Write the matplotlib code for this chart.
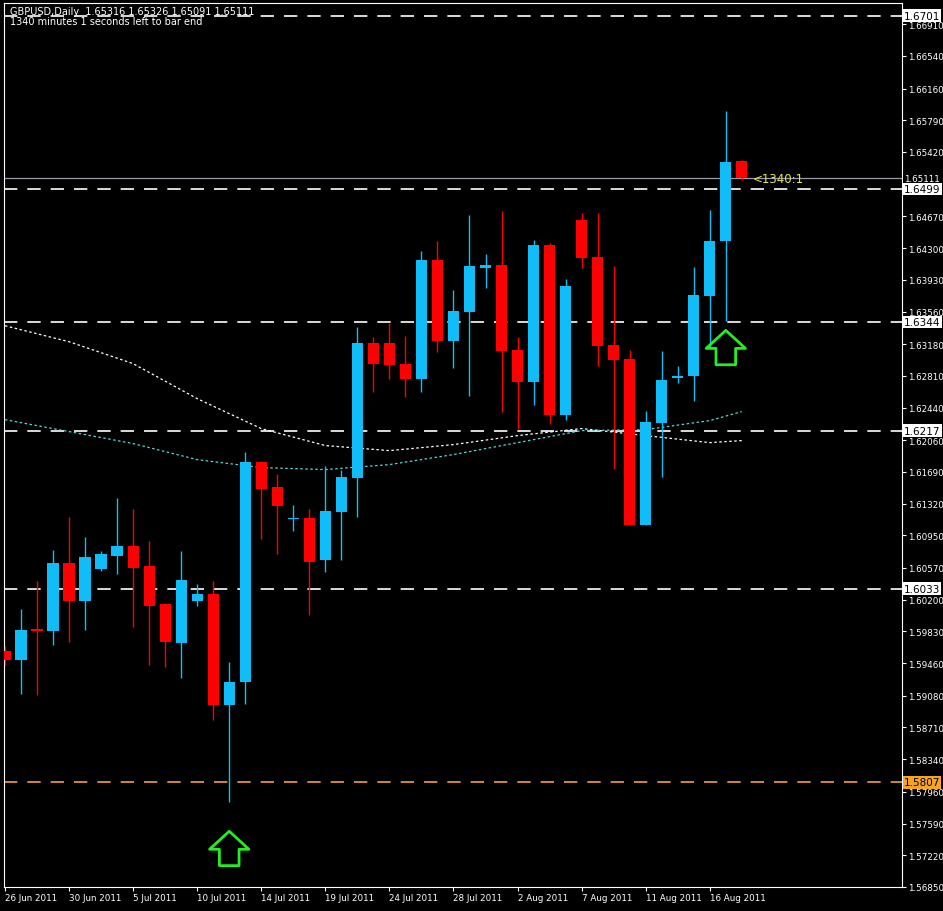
import numpy as np
import matplotlib
matplotlib.use("Agg")
import matplotlib.pyplot as plt
from matplotlib.path import Path

# daily GBPUSD bars, 26 Jun - 18 Aug 2011
opens = [1.59597, 1.59492, 1.59853, 1.59830, 1.60633, 1.60179, 1.60563, 1.60715, 1.60831, 1.60587,
         1.60144, 1.59690, 1.60179, 1.60272, 1.58967, 1.59235, 1.61810, 1.61519, 1.61146, 1.61158,
         1.60657, 1.61227, 1.61624, 1.63196, 1.63196, 1.62952, 1.62777, 1.64163, 1.63220, 1.63558,
         1.64070, 1.64105, 1.63115, 1.62742, 1.64338, 1.62358, 1.64629, 1.64198, 1.63173, 1.63010,
         1.61076, 1.62264, 1.62789, 1.62812, 1.63744, 1.64385, 1.65316]
highs = [1.59655, 1.60097, 1.60412, 1.60785, 1.61169, 1.60936, 1.60762, 1.61391, 1.61262, 1.60890,
         1.60167, 1.60762, 1.60377, 1.60412, 1.59468, 1.61927, 1.61822, 1.61670, 1.61309, 1.61262,
         1.61764, 1.61717, 1.63383, 1.63266, 1.63429, 1.63278, 1.64268, 1.64385, 1.63814, 1.64688,
         1.64233, 1.64734, 1.63266, 1.64396, 1.64361, 1.63942, 1.64711, 1.64711, 1.64094, 1.63115,
         1.62404, 1.63103, 1.62929, 1.64082, 1.64746, 1.65899, 1.65326]
lows = [1.59433, 1.59096, 1.59084, 1.59666, 1.59701, 1.59841, 1.60529, 1.60505, 1.59876, 1.59433,
        1.59410, 1.59282, 1.60132, 1.58793, 1.57837, 1.58979, 1.60913, 1.60727, 1.60995, 1.60016,
        1.60517, 1.60657, 1.61169, 1.62626, 1.62777, 1.62567, 1.62626, 1.63092, 1.62905, 1.62579,
        1.63837, 1.62393, 1.62195, 1.62474, 1.62253, 1.62299, 1.64070, 1.62929, 1.61729, 1.61076,
        1.61076, 1.61635, 1.62730, 1.62521, 1.63150, 1.63453, 1.65091]
closes = [1.59492, 1.59841, 1.59830, 1.60633, 1.60179, 1.60703, 1.60727, 1.60831, 1.60575, 1.60132,
          1.59701, 1.60424, 1.60272, 1.58967, 1.59235, 1.61810, 1.61495, 1.61297, 1.61158, 1.60645,
          1.61239, 1.61635, 1.63196, 1.62952, 1.62940, 1.62777, 1.64163, 1.63220, 1.63569, 1.64094,
          1.64105, 1.63103, 1.62742, 1.64338, 1.62358, 1.63861, 1.64187, 1.63161, 1.62998, 1.61076,
          1.62276, 1.62765, 1.62812, 1.63756, 1.64385, 1.65305, 1.65111]

# moving averages sampled every 4 bars
ma_bars = [0, 4, 8, 12, 16, 20, 24, 28, 32, 36, 40, 44, 46]
ma_white = [1.63394, 1.63208, 1.62952, 1.62544, 1.62195, 1.61997, 1.61938, 1.62008, 1.62113,
            1.62195, 1.62113, 1.62031, 1.62055]
ma_cyan = [1.62299, 1.62160, 1.62020, 1.61833, 1.61740, 1.61717, 1.61775, 1.61892, 1.62031,
           1.62171, 1.62183, 1.62288, 1.62393]

level_lines = [1.6701, 1.6499, 1.6344, 1.6217, 1.6033]
orange_level = 1.5807
bid = 1.65111

arrow_bars = [14, 45]
arrow_prices = [1.5729, 1.6313]

date_labels = ["26 Jun 2011", "30 Jun 2011", "5 Jul 2011", "10 Jul 2011", "14 Jul 2011",
               "19 Jul 2011", "24 Jul 2011", "28 Jul 2011", "2 Aug 2011", "7 Aug 2011",
               "11 Aug 2011", "16 Aug 2011"]
price_ticks = [1.66910, 1.66540, 1.66160, 1.65790, 1.65420, 1.64670, 1.64300, 1.63930, 1.63560,
               1.63180, 1.62810, 1.62440, 1.62060, 1.61690, 1.61320, 1.60950, 1.60570, 1.60200,
               1.59830, 1.59460, 1.59080, 1.58710, 1.58340, 1.57960, 1.57590, 1.57220, 1.56850]

BLUE = "#10bdf6"
RED = "#ff0000"

fig = plt.figure(figsize=(9.43, 9.12), dpi=100, facecolor="black")
ax = fig.add_axes([4 / 943, 24 / 912, 898 / 943, 884 / 912], facecolor="black")

x = np.arange(len(opens))
o = np.array(opens); c = np.array(closes)
up = c >= o
cols = np.where(up, BLUE, RED)
ax.vlines(x, lows, highs, colors=cols, linewidth=1, zorder=3)
bottoms = np.minimum(o, c)
heights = np.maximum(np.abs(c - o), 0.00002)
ax.bar(x, heights, bottom=bottoms, width=0.7, color=cols, linewidth=0, zorder=4)

ax.plot(ma_bars, ma_white, color="white", linestyle=(0, (2, 2)), linewidth=0.9, zorder=2)
ax.plot(ma_bars, ma_cyan, color="#5fd3d3", linestyle=(0, (2, 2)), linewidth=0.9, zorder=2)

for lv in level_lines:
    ax.axhline(lv, color="white", linestyle=(0, (8, 6)), linewidth=1.2, zorder=1)
    ax.text(1.002, lv, f"{lv:.4f}", transform=ax.get_yaxis_transform(), va="center", ha="left",
            fontsize=7.5, color="black", zorder=10, clip_on=False,
            bbox=dict(boxstyle="square,pad=0.12", fc="white", ec="none"))
ax.axhline(orange_level, color="#f0a040", linestyle=(0, (8, 6)), linewidth=1.2, zorder=1)
ax.text(1.002, orange_level, f"{orange_level:.4f}", transform=ax.get_yaxis_transform(), va="center",
        ha="left", fontsize=7.5, color="black", zorder=10, clip_on=False,
        bbox=dict(boxstyle="square,pad=0.12", fc="#f7a51c", ec="none"))
ax.axhline(bid, color="#9a9aa8", linewidth=0.9, zorder=1)
ax.text(1.002, bid, f"{bid:.5f}", transform=ax.get_yaxis_transform(), va="center", ha="left",
        fontsize=6.3, color="white", zorder=10, clip_on=False,
        bbox=dict(boxstyle="square,pad=0.05", fc="black", ec="none"))
ax.text(len(opens) - 0.3, bid + 0.00005, "<1340:1", color="#e8e84a", fontsize=8.5, va="center", ha="left", zorder=5)

# hollow up arrow marker
arrow = Path([(-0.3, -0.5), (0.3, -0.5), (0.3, 0.0), (0.6, 0.0), (0.0, 0.55), (-0.6, 0.0),
              (-0.3, 0.0), (-0.3, -0.5)], closed=True)
ax.scatter(arrow_bars, arrow_prices, marker=arrow, s=800, facecolors="none",
           edgecolors="#22ee22", linewidths=2, zorder=6)

ax.set_xlim(-0.06, 56)
ax.set_ylim(1.56858, 1.67157)
ax.set_xticks(np.arange(0, 48, 4))
ax.set_xticklabels(date_labels, ha="left", fontsize=6.3, color="white")
ax.yaxis.tick_right()
ax.set_yticks(price_ticks)
ax.set_yticklabels([f"{p:.5f}" for p in price_ticks], fontsize=6.3, color="white")
ax.tick_params(colors="white", length=3, width=0.8, pad=1.5)
for s in ax.spines.values():
    s.set_color("white")
    s.set_linewidth(0.8)

fig.text(10 / 943, 1 - 12 / 912, "GBPUSD,Daily  1.65316 1.65326 1.65091 1.65111", color="white", fontsize=7, va="center")
fig.text(10 / 943, 1 - 22 / 912, "1340 minutes 1 seconds left to bar end", color="white", fontsize=7, va="center")

fig.savefig("out.png", dpi=100, facecolor="black")
